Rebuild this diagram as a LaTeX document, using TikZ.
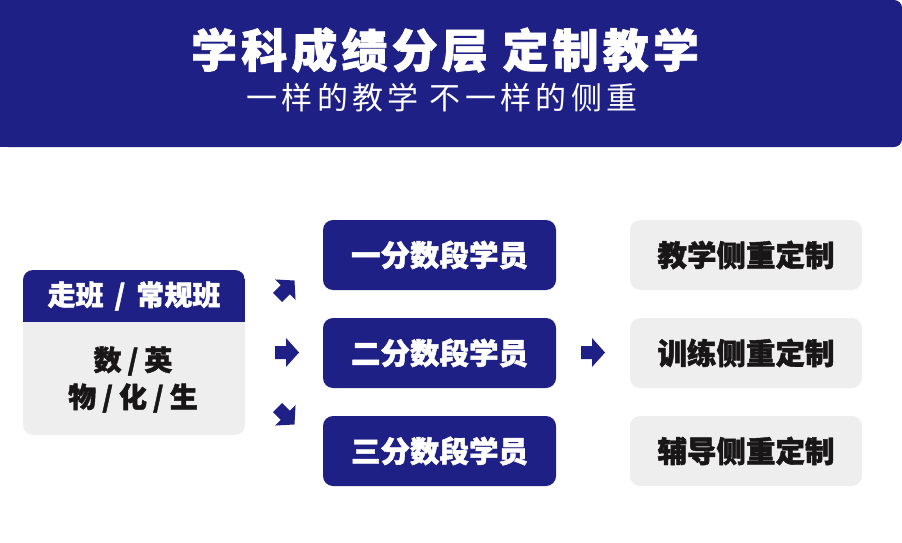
\documentclass[tikz,border=0pt]{standalone}
\usepackage{fontspec}
\setmainfont{Noto Sans CJK SC}
\newfontfamily\cjk{Noto Sans CJK SC}[BoldFeatures={FakeBold=1.5}]
\definecolor{brandblue}{RGB}{31,32,134}
\definecolor{boxgray}{RGB}{238,238,238}
\definecolor{inkdark}{RGB}{24,22,22}
\tikzset{
  blockarrow/.pic={
    \fill[brandblue] (-12,-6.5) -- (-1,-6.5) -- (-1,-14.5) -- (12,0) -- (-1,14.5) -- (-1,6.5) -- (-12,6.5) -- cycle;
  },
  bluebox/.style={fill=brandblue, rounded corners=10pt, minimum width=233pt, minimum height=70pt,
    inner sep=0pt, text=white, font=\cjk\bfseries\fontsize{29.5}{29.5}\selectfont},
  graybox/.style={fill=boxgray, rounded corners=10pt, minimum width=232pt, minimum height=70pt,
    inner sep=0pt, text=inkdark, font=\cjk\bfseries\fontsize{29.5}{29.5}\selectfont},
  subjtext/.style={inner sep=0pt, text=inkdark, font=\cjk\bfseries\fontsize{28}{28}\selectfont},
}
\begin{document}
\begin{tikzpicture}[x=1pt,y=-1pt]
\useasboundingbox (0,0) rectangle (902,543);
% header band
\fill[brandblue, rounded corners=8pt] (0,0) rectangle (902,147);
\fill[brandblue] (0,0) rectangle (30,147);
\node[inner sep=0pt, text=white, font=\cjk\bfseries\fontsize{46}{46}\selectfont\addfontfeatures{LetterSpace=9}] (title) at (445,50) {学科成绩分层 定制教学};
\node[inner sep=0pt, text=white, font=\cjk\fontsize{31}{31}\selectfont\addfontfeatures{LetterSpace=14}] (subtitle) at (442,98) {一样的教学 不一样的侧重};
% left box
\node[fill=boxgray, rounded corners=10pt, minimum width=222pt, minimum height=165pt, inner sep=0pt] (left) at (134,352.5) {};
\begin{scope}
  \clip[rounded corners=10pt] (23,270) rectangle (245,435);
  \fill[brandblue] (23,270) rectangle (245,322);
\end{scope}
\node[inner sep=0pt, text=white, font=\cjk\bfseries\fontsize{28}{28}\selectfont] (lefthead) at (134,296) {走班\hspace{11pt}/\hspace{11pt}常规班};
\node[subjtext] (subj1) at (133,361) {数\hspace{6pt}/\hspace{6pt}英};
\node[subjtext] (subj2) at (133,398) {物\hspace{6pt}/\hspace{6pt}化\hspace{6pt}/\hspace{6pt}生};
% small arrows
\pic[rotate=45] at (286,289) {blockarrow};
\pic at (287,352.5) {blockarrow};
\pic[rotate=-45] at (286,416) {blockarrow};
% blue boxes
\node[bluebox] (b1) at (439.5,255) {一分数段学员};
\node[bluebox] (b2) at (439.5,353) {二分数段学员};
\node[bluebox] (b3) at (439.5,451) {三分数段学员};
% middle arrow
\pic at (593,352.5) {blockarrow};
% gray boxes
\node[graybox] (g1) at (746,255) {教学侧重定制};
\node[graybox] (g2) at (746,353) {训练侧重定制};
\node[graybox] (g3) at (746,451) {辅导侧重定制};
\end{tikzpicture}
\end{document}
